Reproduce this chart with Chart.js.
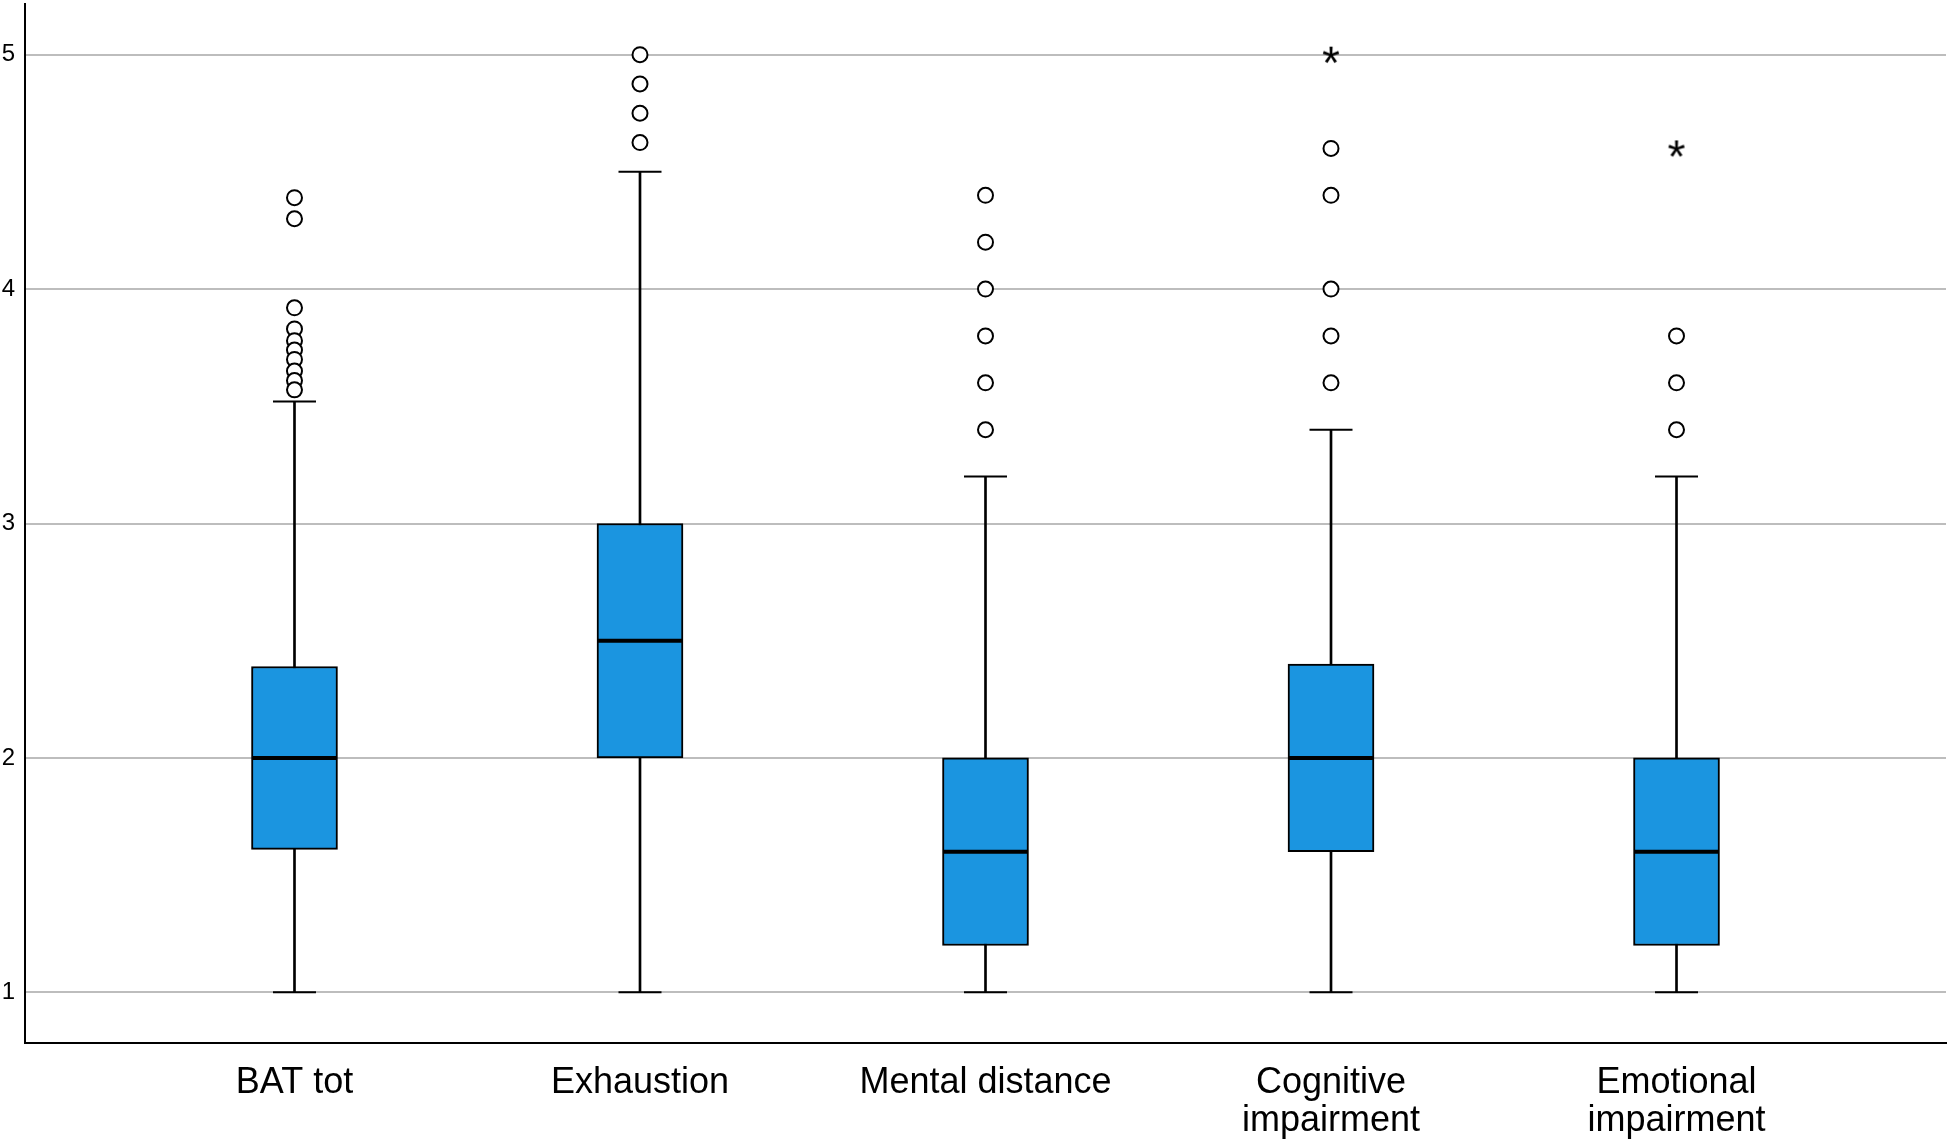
<!DOCTYPE html>
<html>
<head>
<meta charset="utf-8">
<title>BAT boxplot</title>
<script src="https://cdn.jsdelivr.net/npm/chart.js@4.4.1/dist/chart.umd.min.js"></script>
<style>
  html, body { margin: 0; padding: 0; background: #fff; }
  canvas { display: block; }
</style>
</head>
<body>
<canvas id="myChart" width="1950" height="1139"></canvas>
<script>
// values
const categories = ['BAT tot', 'Exhaustion', 'Mental distance', ['Cognitive', 'impairment'], ['Emotional', 'impairment']];
const whiskerLow = [1, 1, 1, 1, 1];
const q1 = [1.61, 2, 1.2, 1.6, 1.2];
const medians = [2, 2.5, 1.6, 2, 1.6];
const q3 = [2.39, 3, 2, 2.4, 2];
const whiskerHigh = [3.52, 4.5, 3.2, 3.4, 3.2];
const outliers = [
    [4.39, 4.30, 3.92, 3.83, 3.78, 3.74, 3.70, 3.65, 3.61, 3.57],
    [5, 4.875, 4.75, 4.625],
    [4.4, 4.2, 4, 3.8, 3.6, 3.4],
    [4.6, 4.4, 4, 3.8, 3.6],
    [3.8, 3.6, 3.4]
];
const extremes = [[], [], [], [5], [4.6]];
const yTicks = [1, 2, 3, 4, 5];

const boxColor = '#1b95e0';
const gridColor = '#bdbdbd';
const fontFamily = '"Liberation Sans", Arial, sans-serif';

// asterisk marker for extreme values
function makeStar(){
    const c = document.createElement('canvas');
    c.width = 30; c.height = 30;
    const g = c.getContext('2d');
    g.font = '46px ' + fontFamily;
    g.fillStyle = '#000';
    g.textAlign = 'center';
    const m = g.measureText('*');
    const y0 = 15 + (m.actualBoundingBoxAscent - m.actualBoundingBoxDescent) / 2;
    g.fillText('*', 15, y0);
    return c;
}

const idx = categories.map((c, i) => i);
const outlierPoints = [];
outliers.forEach((list, i) => list.forEach(v => outlierPoints.push({x: i, y: v})));
const extremePoints = [];
extremes.forEach((list, i) => list.forEach(v => extremePoints.push({x: i, y: v})));

const ctx = document.getElementById('myChart');

new Chart(ctx, {
    type: 'bar',
    data: {
        datasets: [
            {
                // whisker stem
                type: 'bar',
                data: idx.map(i => ({x: i, y: [whiskerLow[i], whiskerHigh[i]]})),
                backgroundColor: '#000',
                borderWidth: 0,
                barThickness: 2,
                grouped: false,
                order: 4
            },
            {
                // whisker caps
                type: 'scatter',
                data: idx.flatMap(i => [{x: i, y: whiskerLow[i]}, {x: i, y: whiskerHigh[i]}]),
                pointStyle: 'line',
                pointRadius: 21.5,
                borderColor: '#000',
                borderWidth: 2,
                order: 3
            },
            {
                // box
                type: 'bar',
                data: idx.map(i => ({x: i, y: [q1[i], q3[i]]})),
                backgroundColor: boxColor,
                borderColor: '#000',
                borderWidth: 2,
                borderSkipped: false,
                barThickness: 86,
                grouped: false,
                order: 2
            },
            {
                // median
                type: 'scatter',
                data: idx.map(i => ({x: i, y: medians[i]})),
                pointStyle: 'line',
                pointRadius: 42,
                borderColor: '#000',
                borderWidth: 4,
                order: 1
            },
            {
                type: 'scatter',
                data: outlierPoints,
                pointStyle: 'circle',
                pointRadius: 7.5,
                backgroundColor: '#fff',
                borderColor: '#000',
                borderWidth: 2,
                order: 0
            },
            {
                type: 'scatter',
                data: extremePoints,
                pointStyle: makeStar(),
                order: 0
            }
        ]
    },
    options: {
        responsive: false,
        animation: false,
        layout: { autoPadding: false, padding: { top: 4, right: 4, left: 0, bottom: 0 } },
        plugins: {
            legend: { display: false },
            tooltip: { enabled: false }
        },
        scales: {
            x: {
                type: 'linear',
                offset: false,
                min: -0.78,
                max: 4.78,
                afterBuildTicks: scale => { scale.ticks = idx.map(v => ({value: v})); },
                afterFit: scale => { scale.height = 96; scale.paddingLeft = 0; scale.paddingRight = 0; },
                grid: { display: false, drawTicks: false },
                border: { color: '#000', width: 2 },
                ticks: {
                    color: '#000',
                    padding: 22,
                    maxRotation: 0,
                    autoSkip: false,
                    font: { family: fontFamily, size: 36, lineHeight: 1.03 },
                    callback: value => categories[value]
                }
            },
            y: {
                min: 0.784,
                max: 5.216,
                afterBuildTicks: scale => { scale.ticks = yTicks.map(v => ({value: v})); },
                afterFit: scale => { scale.width = 25; scale.paddingTop = 0; scale.paddingBottom = 0; },
                grid: { color: gridColor, lineWidth: 2, drawTicks: false },
                border: { color: '#000', width: 2 },
                ticks: {
                    color: '#000',
                    padding: 10,
                    font: { family: fontFamily, size: 24 }
                }
            }
        }
    }
});
</script>
</body>
</html>
